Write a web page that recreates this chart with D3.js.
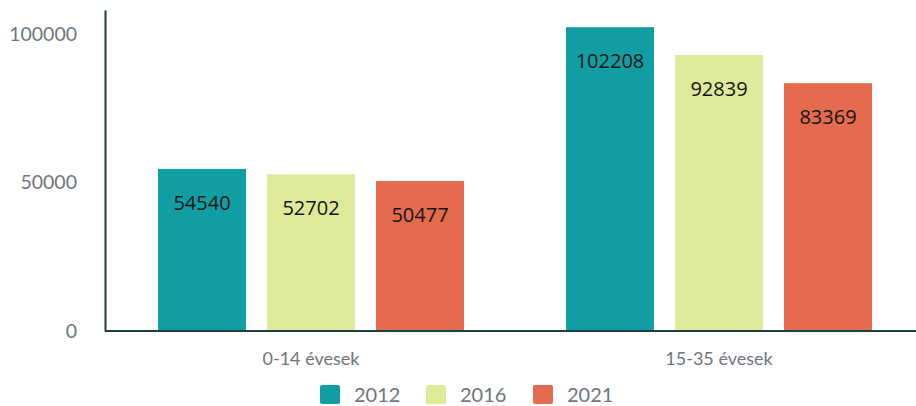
<!DOCTYPE html>
<html>
<head>
<meta charset="utf-8">
<script src="https://cdn.jsdelivr.net/npm/d3@7"></script>
<style>
  body { margin: 0; background: #fff; }
</style>
</head>
<body>
<div id="chart"></div>
<script>
const width = 916, height = 406;

const groups = ["0-14 évesek", "15-35 évesek"];
const years = ["2012", "2016", "2021"];
const values2012 = [54540, 102208];
const values2016 = [52702, 92839];
const values2021 = [50477, 83369];
const yTicks = [0, 50000, 100000];
const colors = ["#119ea3", "#dfe99a", "#e56b4e"];

const seriesValues = [values2012, values2016, values2021];

const margin = {top: 10, left: 105, right: -7, bottom: 75};

const svg = d3.select("#chart")
    .append("svg")
    .attr("width", width)
    .attr("height", height);

const x0 = d3.scaleBand()
    .domain(groups)
    .range([margin.left + 2, width - margin.right]);

const x1 = d3.scaleBand()
    .domain(years)
    .range([0, x0.bandwidth()])
    .paddingInner(0.193)
    .paddingOuter(0.468);

const y = d3.scaleLinear()
    .domain([0, 108000])
    .range([height - margin.bottom, margin.top]);

const color = d3.scaleOrdinal().domain(years).range(colors);

// bars
const g = svg.append("g");
groups.forEach((grp, gi) => {
    years.forEach((yr, si) => {
        const v = seriesValues[si][gi];
        const bx = x0(grp) + x1(yr);
        g.append("rect")
            .attr("x", bx)
            .attr("y", y(v))
            .attr("width", x1.bandwidth())
            .attr("height", y(0) - y(v))
            .attr("fill", color(yr));
        g.append("text")
            .attr("x", bx + x1.bandwidth() / 2)
            .attr("y", y(v) + 34)
            .attr("dy", "0.35em")
            .attr("text-anchor", "middle")
            .style("font-family", "'Open Sans', sans-serif")
            .style("font-size", "20px")
            .style("fill", "#151515")
            .text(v);
    });
});

// y axis
const yAxis = svg.append("g")
    .attr("transform", `translate(${margin.left},0)`)
    .call(d3.axisLeft(y).tickValues(yTicks).tickSize(0).tickPadding(28).tickFormat(d3.format("d")))
    .attr("font-family", "Lato, sans-serif")
    .attr("font-size", 19.5);
yAxis.select(".domain").attr("stroke", "#1c3f40").attr("stroke-width", 2);
yAxis.selectAll("text").attr("fill", "#6f757c");

// x axis
const xAxis = svg.append("g")
    .attr("transform", `translate(0,${y(0)})`)
    .call(d3.axisBottom(x0).tickSize(0).tickPadding(21))
    .attr("font-family", "Lato, sans-serif")
    .attr("font-size", 18);
xAxis.select(".domain").attr("d", `M${margin.left},0H${width}`)
    .attr("stroke", "#1c3f40").attr("stroke-width", 2);
xAxis.selectAll("text").attr("fill", "#6f757c");

// legend
const legend = svg.append("g");
const legendX = [320, 426, 533];
years.forEach((yr, i) => {
    legend.append("rect")
        .attr("x", legendX[i])
        .attr("y", 385)
        .attr("width", 20)
        .attr("height", 19)
        .attr("rx", 2)
        .attr("fill", color(yr));
    legend.append("text")
        .attr("x", legendX[i] + 34)
        .attr("y", 402)
        .style("font-family", "Lato, sans-serif")
        .style("font-size", "20px")
        .style("fill", "#6f757c")
        .text(yr);
});
</script>
</body>
</html>
